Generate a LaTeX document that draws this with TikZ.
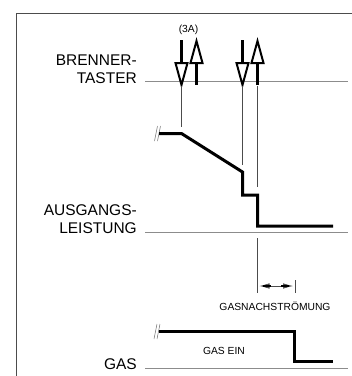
\documentclass[tikz,border=0pt]{standalone}
\usepackage{fontspec}
\setmainfont{Liberation Sans}
\usetikzlibrary{arrows.meta}
\begin{document}
\begin{tikzpicture}[x=1pt,y=-1pt,
  frame/.style={draw=black!70,line width=0.9pt},
  axis/.style={draw=black!45,line width=0.9pt},
  guide/.style={draw=black!70,line width=0.6pt},
  signal/.style={draw=black,line width=3pt,line join=miter},
  brk/.style={draw=black!55,line width=0.5pt},
  bigtext/.style={font=\fontsize{15.5}{18}\selectfont,anchor=base east,inner sep=0pt},
  smalltext/.style={font=\fontsize{10.3}{12}\selectfont,inner sep=0pt},
  pressarrow/.pic={
    \draw[line width=3pt] (0,0) -- (0,23);
    \draw[line width=2pt,fill=white,line join=miter] (-6,23) -- (6,23) -- (0,45) -- cycle;
  },
  releasearrow/.pic={
    \draw[line width=2pt,fill=white,line join=miter] (0,1) -- (6,23) -- (-6,23) -- cycle;
    \draw[line width=3pt] (0,23) -- (0,45);
  }]
\useasboundingbox (0,0) rectangle (352,376);

% frame
\draw[frame] (352,13) -- (16,13) -- (16,376);

% time axes
\draw[axis] (145,81) -- (348,81);
\draw[axis] (145,232.5) -- (348,232.5);
\draw[axis] (145,368) -- (348,368);

% labels
\node[bigtext] (brenner) at (137,65) {BRENNER-};
\node[bigtext] (taster) at (137,83) {TASTER};
\node[bigtext] (ausgangs) at (137,215) {AUSGANGS-};
\node[bigtext] (leistung) at (137,233.5) {LEISTUNG};
\node[bigtext] (gaslabel) at (137,369.5) {GAS};

% torch switch press / release
\pic at (181.5,40) {pressarrow};
\pic at (196.5,40) {releasearrow};
\pic at (242.5,40) {pressarrow};
\pic at (257.5,40) {releasearrow};
\node[smalltext] (threeA) at (188.5,29.5) {(3A)};

% guide lines
\coordinate (g1a) at (181.5,86);  \coordinate (g1b) at (181.5,127);
\coordinate (g2a) at (242.5,86);  \coordinate (g2b) at (242.5,165);
\coordinate (g3a) at (257.5,86);  \coordinate (g3b) at (257.5,187);
\coordinate (g4a) at (257.5,238); \coordinate (g4b) at (257.5,293);
\coordinate (g5a) at (295,280);   \coordinate (g5b) at (295,293);
\draw[guide] (g1a) -- (g1b);
\draw[guide] (g2a) -- (g2b);
\draw[guide] (g3a) -- (g3b);
\draw[guide] (g4a) -- (g4b);
\draw[guide] (g5a) -- (g5b);

% post-flow dimension
\coordinate (d1) at (259.5,286);
\coordinate (d2) at (293,286);
\draw[guide,{Latex[length=10pt,width=5.5pt]}-{Latex[length=10pt,width=5.5pt]}] (d1) -- (d2);
\draw[black,line width=1.6pt] (263,286) -- (271,286) (281,286) -- (289,286);
\node[smalltext] (nachstroemung) at (275,306) {GASNACHSTRÖMUNG};

% output power curve
\draw[brk] (154.5,141) -- (157.5,126);
\draw[brk] (157.5,141) -- (160.5,126);
\draw[signal] (159,133.5) -- (181.5,133.5) -- (242.5,172) -- (242.5,195)
  -- (257.5,195) -- (257.5,226) -- (333,226);

% gas curve
\draw[brk] (154,339) -- (157,324);
\draw[brk] (157,339) -- (160,324);
\draw[signal] (159,331) -- (294.5,331) -- (294.5,361) -- (333,361);
\node[smalltext] (gasein) at (224,350.5) {GAS EIN};
\end{tikzpicture}
\end{document}
